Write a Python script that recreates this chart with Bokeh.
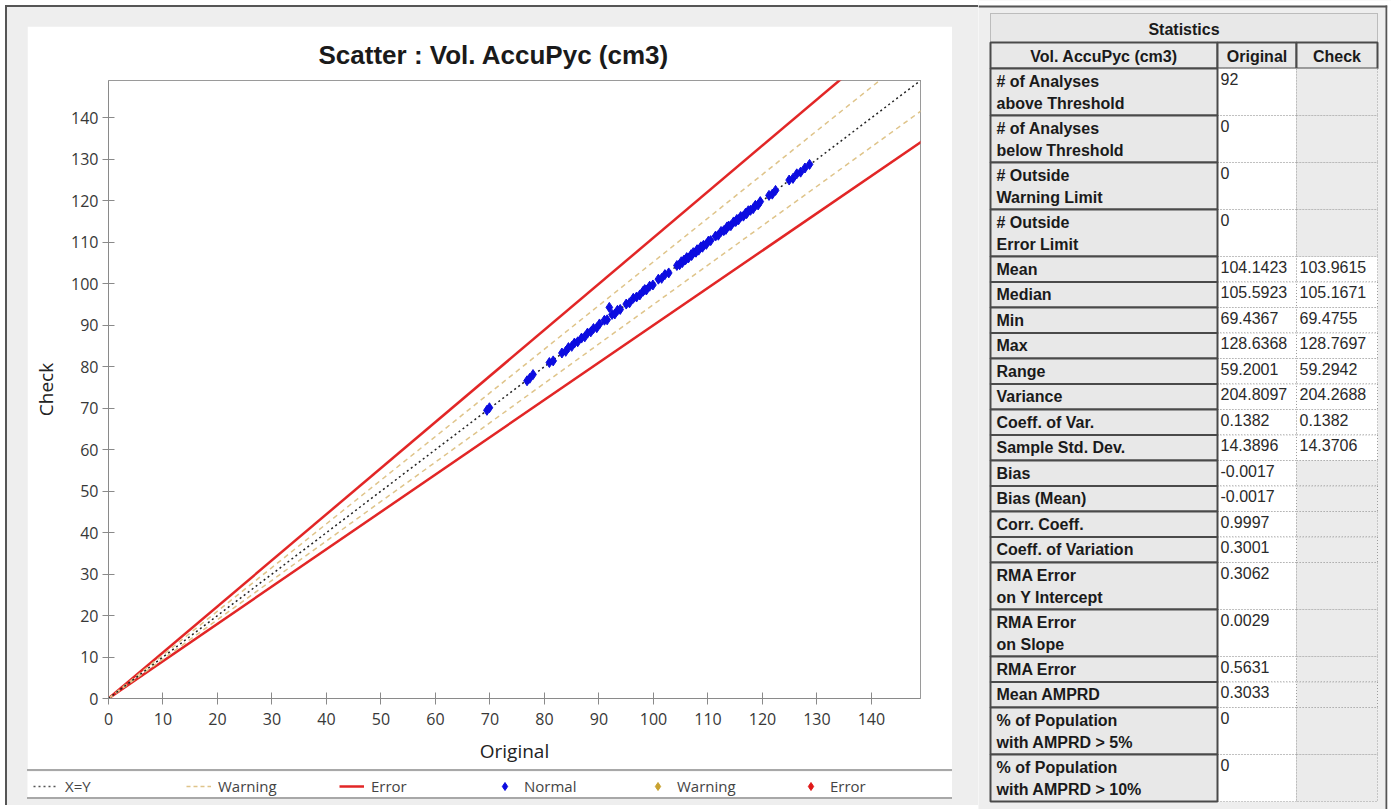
from bokeh.plotting import figure
from bokeh.models import Range1d, FixedTicker, Legend, LegendItem
from bokeh.layouts import row, column
from bokeh.embed import file_html
from bokeh.resources import INLINE
from bokeh.core.properties import value

# ---------------- data ----------------
original = [69.44, 69.9, 76.8, 77.3, 77.9, 80.9, 81.6, 83.2, 83.9, 84.4,
            85.0, 85.5, 86.1, 86.8, 87.4, 87.9, 88.5, 89.0, 89.6, 90.1,
            91.0, 91.5, 91.9, 92.4, 92.9, 93.4, 93.9, 95.0, 95.6, 96.3,
            96.9, 97.5, 98.1, 98.4, 98.7, 99.3, 99.9, 100.9, 101.5, 102.1,
            102.8, 104.3, 104.8, 105.1, 105.3, 105.6, 105.9, 106.1, 106.4, 106.9,
            107.0, 107.3, 107.8, 108.0, 108.3, 108.7, 109.0, 109.2, 109.7, 110.1,
            110.5, 111.4, 111.9, 112.4, 112.9, 113.3, 113.5, 113.8, 114.2, 114.7,
            115.1, 115.3, 115.6, 116.0, 116.5, 116.9, 117.1, 117.4, 117.8, 118.3,
            118.7, 119.2, 119.6, 121.2, 121.8, 122.4, 124.9, 125.6, 126.3, 127.0,
            127.8, 128.64]
check = [69.48, 70.1, 76.6, 77.2, 78.1, 81.0, 81.4, 83.3, 83.7, 84.6,
         84.9, 85.7, 86.0, 86.9, 87.2, 88.1, 88.4, 89.2, 89.4, 90.3,
         91.2, 91.3, 94.3, 92.6, 92.7, 93.6, 93.8, 95.1, 95.4, 96.5,
         96.8, 97.3, 98.2, 98.6, 98.5, 99.4, 99.7, 101.1, 101.3, 102.2,
         102.6, 104.4, 104.6, 105.3, 105.1, 105.7, 105.8, 106.3, 106.2, 107.0,
         106.8, 107.5, 107.6, 108.2, 108.1, 108.9, 108.8, 109.3, 109.5, 110.3,
         110.4, 111.5, 111.7, 112.6, 112.8, 113.1, 113.7, 113.9, 114.0, 114.9,
         115.0, 115.5, 115.4, 116.2, 116.3, 117.0, 116.9, 117.6, 117.7, 118.1,
         118.9, 119.0, 119.8, 121.3, 121.6, 122.5, 125.0, 125.4, 126.5, 126.9,
         127.9, 128.77]

tick_values = [0, 10, 20, 30, 40, 50, 60, 70, 80, 90, 100, 110, 120, 130, 140]
axis_max = 149
limit_x = [0, 150]
slope_xy = 1.0
slope_warn_upper = 1.053
slope_warn_lower = 0.95
slope_err_upper = 1.111
slope_err_lower = 0.9

chart_title = "Scatter : Vol. AccuPyc (cm3)"
x_label = "Original"
y_label = "Check"
legend_labels = ["X=Y", "Warning", "Error", "Normal", "Warning", "Error"]

table_title = "Statistics"
header_cols = ["Vol. AccuPyc (cm3)", "Original", "Check"]
stat_labels = ["# of Analyses\nabove Threshold", "# of Analyses\nbelow Threshold",
               "# Outside\nWarning Limit", "# Outside\nError Limit",
               "Mean", "Median", "Min", "Max", "Range", "Variance",
               "Coeff. of Var.", "Sample Std. Dev.", "Bias", "Bias (Mean)",
               "Corr. Coeff.", "Coeff. of Variation", "RMA Error\non Y Intercept",
               "RMA Error\non Slope", "RMA Error", "Mean AMPRD",
               "% of Population\nwith AMPRD > 5%", "% of Population\nwith AMPRD > 10%"]
stat_original = ["92", "0", "0", "0", "104.1423", "105.5923", "69.4367", "128.6368",
                 "59.2001", "204.8097", "0.1382", "14.3896", "-0.0017", "-0.0017",
                 "0.9997", "0.3001", "0.3062", "0.0029", "0.5631", "0.3033", "0", "0"]
stat_check = ["", "", "", "", "103.9615", "105.1671", "69.4755", "128.7697",
              "59.2942", "204.2688", "0.1382", "14.3706", "", "", "", "", "", "",
              "", "", "", ""]

# ---------------- styles ----------------
PANEL_BG = "#eeeeee"
DARK = "#555555"
RED = "#e22626"
WARN = "#dfc48a"
BLUE = "#0c0ce0"
TICK_FONT = "Open Sans"
TABLE_FONT = "Liberation Sans"

# ---------------- chart ----------------
p = figure(width=925, height=743,
           x_range=Range1d(0, axis_max), y_range=Range1d(0, axis_max),
           output_backend="svg", toolbar_location=None,
           min_border_left=81, min_border_right=32,
           min_border_top=54, min_border_bottom=71,
           title=chart_title, margin=(19, 26, 0, 20))
p.border_fill_color = "white"
p.background_fill_color = "white"
p.outline_line_color = "#9a9a9a"
p.title.align = "left"
p.title.offset = 210
p.title.standoff = 22
p.title.text_font = TABLE_FONT
p.title.text_font_size = "26px"
p.title.text_font_style = "bold"
p.title.text_color = "#1a1a1a"
p.xgrid.visible = False
p.ygrid.visible = False

for ax in (p.xaxis[0], p.yaxis[0]):
    ax.ticker = FixedTicker(ticks=tick_values)
    ax.major_tick_in = 6
    ax.major_tick_out = 6
    ax.minor_tick_in = 0
    ax.minor_tick_out = 0
    ax.axis_line_color = "#8a8a8a"
    ax.major_tick_line_color = "#8a8a8a"
    ax.major_label_text_font = TICK_FONT
    ax.major_label_text_font_size = "16px"
    ax.major_label_text_color = "#383838"
    ax.axis_label_text_font = TICK_FONT
    ax.axis_label_text_font_size = "19px"
    ax.axis_label_text_font_style = "normal"
    ax.axis_label_text_color = "#222222"
p.xaxis.axis_label = x_label
p.yaxis.axis_label = y_label
p.xaxis.major_label_standoff = 8
p.yaxis.major_label_standoff = 4
p.xaxis.axis_label_standoff = 10
p.yaxis.axis_label_standoff = 9

p.line(limit_x, [slope_err_upper * v for v in limit_x], line_color=RED, line_width=2.5)
p.line(limit_x, [slope_err_lower * v for v in limit_x], line_color=RED, line_width=2.5)
p.line(limit_x, [slope_warn_upper * v for v in limit_x], line_color=WARN, line_width=1.5, line_dash="5 4")
p.line(limit_x, [slope_warn_lower * v for v in limit_x], line_color=WARN, line_width=1.5, line_dash="5 4")
p.line(limit_x, [slope_xy * v for v in limit_x], line_color="#222222", line_width=1.5, line_dash="2 3")
p.scatter(original, check, marker="diamond", size=10, fill_color=BLUE, line_color=BLUE)

# ---------------- legend strip ----------------
lf = figure(width=925, height=30, x_range=Range1d(0, 1), y_range=Range1d(0, 1),
            output_backend="svg", toolbar_location=None,
            x_axis_type=None, y_axis_type=None,
            min_border_left=0, min_border_right=0, min_border_top=0, min_border_bottom=0,
            styles={"border-top": "2px solid #a8a8a8", "border-bottom": "2px solid #a8a8a8"})
lf.border_fill_color = "white"
lf.background_fill_color = "white"
lf.outline_line_color = None
lf.grid.visible = False
off = [-10, -9]
r_xy = lf.line(off, off, line_color="#555555", line_width=1.5, line_dash="2 3")
r_wl = lf.line(off, off, line_color=WARN, line_width=1.5, line_dash="4 3")
r_el = lf.line(off, off, line_color=RED, line_width=2.5)
r_nm = lf.scatter(off, off, marker="diamond", size=10, fill_color=BLUE, line_color=BLUE)
r_wm = lf.scatter(off, off, marker="diamond", size=10, fill_color="#c9a230", line_color="#c9a230")
r_em = lf.scatter(off, off, marker="diamond", size=10, fill_color="#e01818", line_color="#e01818")
legend = Legend(items=[LegendItem(label=lab, renderers=[r]) for lab, r in
                       zip(legend_labels, [r_xy, r_wl, r_el, r_nm, r_wm, r_em])],
                location=(6, 5), orientation="horizontal",
                glyph_width=25, glyph_height=20, label_standoff=7, label_width=121,
                spacing=0, padding=0, margin=0,
                border_line_alpha=0, background_fill_alpha=0,
                label_text_font=TICK_FONT, label_text_font_size="15px",
                label_text_color="#444444")
lf.add_layout(legend, "center")

# wrapping the strip in its own row keeps its frame independent of the chart frame
strip = row(lf, margin=(0, 26, 6, 20))

left_panel = column(p, strip, margin=(5, 0, 0, 5),
                    styles={"background-color": PANEL_BG,
                            "border-top": "2px solid " + DARK,
                            "border-left": "2px solid " + DARK})

# ---------------- statistics table ----------------
tf = figure(width=413, height=809, x_range=Range1d(978, 1391), y_range=Range1d(809, 0),
            output_backend="svg", toolbar_location=None,
            x_axis_type=None, y_axis_type=None, min_border=0)
tf.background_fill_color = PANEL_BG
tf.border_fill_color = PANEL_BG
tf.outline_line_color = None
tf.grid.visible = False

# window frame pieces
tf.quad(left=[978], right=[1391], top=[0], bottom=[5], fill_color="white", line_color=None)
tf.quad(left=[978], right=[1387], top=[5], bottom=[7], fill_color=DARK, line_color=None)
tf.quad(left=[1385], right=[1387], top=[5], bottom=[809], fill_color=DARK, line_color=None)
tf.quad(left=[1387], right=[1391], top=[0], bottom=[809], fill_color="white", line_color=None)

col_edges = [990, 1217, 1296, 1377]
title_top, head_top, body_top = 13, 42, 68
single_h, double_h = 25.5, 47

# "Statistics" title row
tf.quad(left=[col_edges[0]], right=[col_edges[3]], top=[title_top], bottom=[head_top],
        fill_color="#e8e8e8", line_color="#8c8c8c", line_dash="1 1", line_width=1)
tf.text(x=[(col_edges[0] + col_edges[3]) / 2], y=[(title_top + head_top) / 2 + 1], text=[table_title],
        text_font=value(TABLE_FONT), text_font_style="bold", text_font_size="16px",
        text_align="center", text_baseline="middle", text_color="#1a1a1a")

# column headers
tf.quad(left=col_edges[:3], right=col_edges[1:], top=[head_top] * 3, bottom=[body_top] * 3,
        fill_color="#e8e8e8", line_color="#4a4a4a", line_width=2)
tf.text(x=[(col_edges[i] + col_edges[i + 1]) / 2 for i in range(3)],
        y=[(head_top + body_top) / 2 + 1] * 3, text=header_cols,
        text_font=value(TABLE_FONT), text_font_style="bold", text_font_size="16px",
        text_align="center", text_baseline="middle", text_color="#1a1a1a")

heights = [double_h if "\n" in s else single_h for s in stat_labels]
tops = []
yy = body_top
for h in heights:
    tops.append(yy)
    yy += h
bottoms = [t + h for t, h in zip(tops, heights)]
n = len(stat_labels)

tf.quad(left=[col_edges[1]] * n, right=[col_edges[2]] * n, top=tops, bottom=bottoms,
        fill_color="white", line_color="#9c9c9c", line_dash="1 2", line_width=1)
tf.quad(left=[col_edges[2]] * n, right=[col_edges[3]] * n, top=tops, bottom=bottoms,
        fill_color=["white" if c else "#ebebeb" for c in stat_check],
        line_color="#9c9c9c", line_dash="1 2", line_width=1)
tf.quad(left=[col_edges[0]] * n, right=[col_edges[1]] * n, top=tops, bottom=bottoms,
        fill_color="#e8e8e8", line_color="#4a4a4a", line_width=2)

tf.text(x=[col_edges[0] + 6] * n, y=[t + 4 for t in tops], text=stat_labels,
        text_font=value(TABLE_FONT), text_font_style="bold", text_font_size="16px",
        text_baseline="top", text_line_height=1.3, text_color="#1a1a1a")
tf.text(x=[col_edges[1] + 3] * n, y=[t + 4 for t in tops], text=stat_original,
        text_font=value(TABLE_FONT), text_font_size="16px",
        text_baseline="top", text_color="#2a2a2a")
tf.text(x=[col_edges[2] + 3] * n, y=[t + 4 for t in tops], text=stat_check,
        text_font=value(TABLE_FONT), text_font_size="16px",
        text_baseline="top", text_color="#2a2a2a")

root = row(left_panel, tf)

open("out.html", "w").write(file_html(root, INLINE, title="Scatter : Vol. AccuPyc (cm3)"))
